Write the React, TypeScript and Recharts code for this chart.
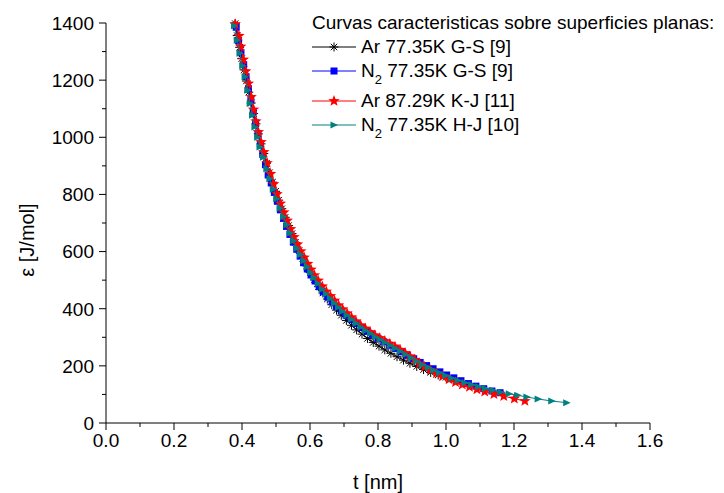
import { Legend, Scatter, ScatterChart, XAxis, YAxis } from 'recharts'

// Characteristic curves (epsilon vs film thickness t) on flat surfaces.
// Four series that all sit on top of each other.

const FONT = '"Liberation Sans", Arial, Helvetica, sans-serif'

const xTicks = [0, 0.1, 0.2, 0.3, 0.4, 0.5, 0.6, 0.7, 0.8, 0.9, 1.0, 1.1, 1.2, 1.3, 1.4, 1.5, 1.6]
const yTicks = [0, 100, 200, 300, 400, 500, 600, 700, 800, 900, 1000, 1100, 1200, 1300, 1400]

const legendTitle = 'Curvas caracteristicas sobre superficies planas:'
const seriesNames = ['Ar 77.35K G-S [9]', 'N_2 77.35K G-S [9]', 'Ar 87.29K K-J [11]', 'N_2 77.35K H-J [10]']

// Ar 77.35K G-S [9]
const arGS_t = [
  0.380, 0.386, 0.393, 0.399, 0.406, 0.413, 0.420, 0.427, 0.434, 0.441, 0.448, 0.456, 0.464,
  0.472, 0.481, 0.490, 0.499, 0.508, 0.517, 0.527, 0.537, 0.547, 0.557, 0.568, 0.579, 0.590,
  0.601, 0.613, 0.625, 0.638, 0.651, 0.664, 0.678, 0.692, 0.707, 0.722, 0.737, 0.753, 0.769,
  0.786, 0.803, 0.820, 0.838, 0.856, 0.875, 0.894, 0.914, 0.934, 0.955, 0.977, 1.000,
]
const arGS_e = [
  1398, 1356, 1315, 1275, 1236, 1197, 1158, 1120, 1083, 1047, 1012, 977, 943,
  909, 876, 843, 811, 780, 750, 720, 691, 663, 632, 603, 576, 550,
  526, 501, 477, 455, 434, 414, 395, 377, 359, 342, 326, 311, 296,
  282, 269, 256, 244, 232, 220, 209, 198, 187, 177, 168, 160,
]

// N2 77.35K G-S [9]
const n2GS_t = [
  0.383, 0.390, 0.397, 0.405, 0.412, 0.419, 0.426, 0.433, 0.440, 0.447, 0.454, 0.461, 0.469,
  0.477, 0.486, 0.495, 0.504, 0.513, 0.522, 0.531, 0.541, 0.551, 0.561, 0.571, 0.581, 0.592,
  0.603, 0.615, 0.627, 0.639, 0.652, 0.665, 0.678, 0.692, 0.706, 0.721, 0.736, 0.752, 0.768,
  0.784, 0.800, 0.817, 0.834, 0.851, 0.869, 0.887, 0.905, 0.924, 0.943, 0.962, 0.982, 1.002,
  1.023, 1.044, 1.066, 1.088, 1.111, 1.135, 1.159,
]
const n2GS_e = [
  1385, 1338, 1296, 1254, 1212, 1170, 1128, 1088, 1050, 1012, 976, 940, 904,
  868, 840, 807, 776, 746, 716, 688, 660, 633, 608, 584, 561, 539,
  518, 497, 477, 459, 441, 424, 408, 392, 377, 362, 348, 334, 321,
  308, 296, 284, 272, 261, 249, 237, 225, 212, 201, 190, 179, 168,
  158, 148, 138, 129, 120, 112, 106,
]

// Ar 87.29K K-J [11]
const arKJ_t = [
  0.380, 0.391, 0.396, 0.404, 0.411, 0.419, 0.427, 0.434, 0.441, 0.448, 0.456, 0.464, 0.474,
  0.484, 0.493, 0.503, 0.513, 0.523, 0.533, 0.543, 0.553, 0.563, 0.573, 0.583, 0.593, 0.603,
  0.613, 0.624, 0.636, 0.648, 0.660, 0.672, 0.684, 0.696, 0.709, 0.722, 0.735, 0.749, 0.763,
  0.777, 0.791, 0.805, 0.820, 0.835, 0.850, 0.865, 0.880, 0.894, 0.908, 0.922, 0.937, 0.954,
  0.972, 0.990, 1.009, 1.028, 1.048, 1.069, 1.091, 1.114, 1.141, 1.170, 1.201, 1.232,
]
const arKJ_e = [
  1396, 1355, 1317, 1272, 1231, 1188, 1141, 1097, 1056, 1018, 983, 948, 910,
  872, 836, 801, 768, 737, 708, 679, 651, 625, 601, 579, 557, 537,
  517, 498, 478, 460, 444, 428, 412, 398, 384, 370, 356, 342, 330,
  318, 307, 297, 287, 277, 267, 256, 245, 233, 221, 208, 196, 185,
  174, 163, 153, 143, 134, 126, 118, 110, 101, 94, 85, 77,
]

// N2 77.35K H-J [10]
const n2HJ_t = [
  0.378, 0.386, 0.394, 0.402, 0.409, 0.417, 0.424, 0.431, 0.438, 0.446, 0.453, 0.463, 0.473,
  0.482, 0.492, 0.502, 0.512, 0.522, 0.532, 0.542, 0.552, 0.562, 0.572, 0.582, 0.592, 0.602,
  0.612, 0.624, 0.636, 0.648, 0.660, 0.672, 0.684, 0.696, 0.709, 0.722, 0.736, 0.750, 0.764,
  0.778, 0.792, 0.806, 0.821, 0.836, 0.851, 0.866, 0.882, 0.898, 0.914, 0.931, 0.948, 0.964,
  0.981, 0.999, 1.017, 1.036, 1.056, 1.076, 1.096, 1.116, 1.138, 1.161, 1.186, 1.211, 1.238,
  1.271, 1.311, 1.355,
]
const n2HJ_e = [
  1390, 1340, 1294, 1250, 1212, 1165, 1118, 1077, 1036, 1000, 966, 930, 890,
  855, 818, 785, 752, 722, 694, 665, 638, 612, 590, 568, 547, 527,
  508, 488, 468, 452, 436, 420, 405, 391, 377, 363, 349, 336, 324,
  313, 302, 292, 282, 272, 262, 251, 240, 228, 216, 204, 194, 185,
  176, 166, 157, 149, 141, 134, 127, 121, 115, 108, 102, 97, 91,
  84, 77, 71,
]

type Pt = { t: number; e: number }
type MarkerKind = 'asterisk' | 'square' | 'star' | 'triangle'

const zip = (t: number[], e: number[]): Pt[] => t.map((v, i) => ({ t: v, e: e[i] }))

// drawing order: black first, teal ends up on top
const SERIES: { name: string; data: Pt[]; color: string; marker: MarkerKind }[] = [
  { name: seriesNames[0], data: zip(arGS_t, arGS_e), color: '#000000', marker: 'asterisk' },
  { name: seriesNames[1], data: zip(n2GS_t, n2GS_e), color: '#0000ff', marker: 'square' },
  { name: seriesNames[2], data: zip(arKJ_t, arKJ_e), color: '#ff0000', marker: 'star' },
  { name: seriesNames[3], data: zip(n2HJ_t, n2HJ_e), color: '#008080', marker: 'triangle' },
]

function Marker({ kind, cx, cy, color }: { kind: MarkerKind; cx: number; cy: number; color: string }) {
  if (kind === 'asterisk') {
    const r = 4.5
    const d = 3.2
    return (
      <g stroke={color} strokeWidth={1}>
        <line x1={cx - r} y1={cy} x2={cx + r} y2={cy} />
        <line x1={cx} y1={cy - r} x2={cx} y2={cy + r} />
        <line x1={cx - d} y1={cy - d} x2={cx + d} y2={cy + d} />
        <line x1={cx - d} y1={cy + d} x2={cx + d} y2={cy - d} />
      </g>
    )
  }
  if (kind === 'square') {
    return <rect x={cx - 3.5} y={cy - 3.5} width={7} height={7} fill={color} />
  }
  if (kind === 'star') {
    const pts: string[] = []
    for (let i = 0; i < 10; i++) {
      const r = i % 2 === 0 ? 6 : 2.6
      const a = -Math.PI / 2 + (i * Math.PI) / 5
      pts.push(`${cx + r * Math.cos(a)},${cy + r * Math.sin(a)}`)
    }
    return <polygon points={pts.join(' ')} fill={color} />
  }
  return <polygon points={`${cx + 4},${cy} ${cx - 3.5},${cy - 3.5} ${cx - 3.5},${cy + 3.5}`} fill={color} />
}

function XTick(props: any) {
  const { x, y, payload } = props
  const v = payload.value as number
  const major = Math.round(v * 10) % 2 === 0
  return (
    <g>
      <line x1={x} y1={y} x2={x} y2={y + (major ? 7 : 4)} stroke="#000" />
      {major && (
        <text x={x} y={y + 11} dy="0.71em" textAnchor="middle" fontSize={19} fontFamily={FONT} fill="#000">
          {v.toFixed(1)}
        </text>
      )}
    </g>
  )
}

function YTick(props: any) {
  const { x, y, payload } = props
  const v = payload.value as number
  const major = v % 200 === 0
  return (
    <g>
      <line x1={x - (major ? 7 : 4)} y1={y} x2={x} y2={y} stroke="#000" />
      {major && (
        <text x={x - 12} y={y} dy="0.36em" textAnchor="end" fontSize={19} fontFamily={FONT} fill="#000">
          {v}
        </text>
      )}
    </g>
  )
}

function renderName(name: string) {
  if (!name.includes('_')) return name
  const [head, tail] = name.split('_')
  return (
    <>
      {head}
      <span style={{ fontSize: 13, position: 'relative', top: 7 }}>{tail.slice(0, 1)}</span>
      {tail.slice(1)}
    </>
  )
}

function LegendBox() {
  return (
    <div style={{ fontFamily: FONT, fontSize: 19, color: '#000', lineHeight: '24px', whiteSpace: 'nowrap' }}>
      <div style={{ height: 24 }}>{legendTitle}</div>
      {SERIES.map((s) => (
        <div key={s.name} style={{ height: s.name.includes('_') ? 30 : 24, display: 'flex' }}>
          <svg width={44} height={24} style={{ flex: 'none' }}>
            <line x1={0} y1={12} x2={44} y2={12} stroke={s.color} strokeWidth={1} />
            <Marker kind={s.marker} cx={22} cy={12} color={s.color} />
          </svg>
          <span style={{ marginLeft: 5 }}>{renderName(s.name)}</span>
        </div>
      ))}
    </div>
  )
}

export default function App() {
  return (
    <div style={{ position: 'absolute', left: 0, top: 0, background: '#fff' }}>
      <ScatterChart width={724} height={493} margin={{ top: 23, right: 74, bottom: 0, left: 0 }}>
        <XAxis
          type="number"
          dataKey="t"
          domain={[0, 1.6]}
          ticks={xTicks}
          interval={0}
          height={70}
          tick={XTick}
          tickLine={false}
          tickSize={0}
          tickMargin={0}
          axisLine={{ stroke: '#000' }}
          label={{
            content: (p: any) => (
              <text
                x={p.viewBox.x + p.viewBox.width / 2}
                y={p.viewBox.y + 59}
                textAnchor="middle"
                dominantBaseline="central"
                fontSize={20}
                fontFamily={FONT}
                fill="#000"
              >
                t [nm]
              </text>
            ),
          }}
        />
        <YAxis
          type="number"
          dataKey="e"
          domain={[0, 1400]}
          ticks={yTicks}
          interval={0}
          width={106}
          tick={YTick}
          tickLine={false}
          tickSize={0}
          tickMargin={0}
          axisLine={{ stroke: '#000' }}
          label={{
            content: (p: any) => {
              const cx = p.viewBox.x + 27
              const cy = p.viewBox.y + p.viewBox.height / 2 + 17
              return (
                <text
                  x={cx}
                  y={cy}
                  transform={`rotate(-90 ${cx} ${cy})`}
                  textAnchor="middle"
                  dominantBaseline="central"
                  fontSize={20}
                  fontFamily={FONT}
                  fill="#000"
                >
                  ε [J/mol]
                </text>
              )
            },
          }}
        />
        <Legend
          content={<LegendBox />}
          layout="horizontal"
          verticalAlign="middle"
          align="center"
          wrapperStyle={{ top: 11, left: 312, width: 412, height: 140 }}
        />
        {SERIES.map((s) => (
          <Scatter
            key={s.name}
            name={s.name}
            data={s.data}
            line={{ stroke: s.color, strokeWidth: 1 }}
            lineType="joint"
            shape={(p: any) => <Marker kind={s.marker} cx={p.cx} cy={p.cy} color={s.color} />}
            isAnimationActive={false}
          />
        ))}
      </ScatterChart>
    </div>
  )
}
